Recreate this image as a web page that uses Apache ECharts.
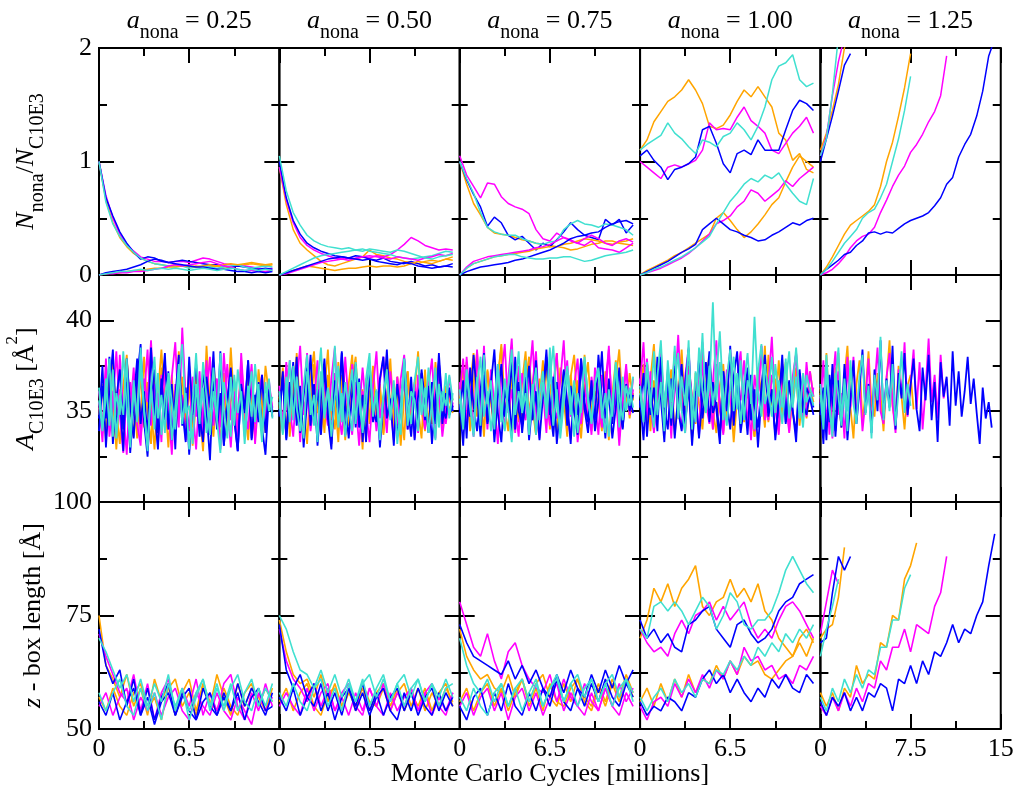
<!DOCTYPE html>
<html>
<head>
<meta charset="utf-8">
<script src="https://cdn.jsdelivr.net/npm/echarts@6/dist/echarts.min.js"></script>
<style>
html, body { margin: 0; padding: 0; background: #fff; }
#chart { width: 1016px; height: 786px; }
</style>
</head>
<body>
<div id="chart"></div>
<script>
var FONT = '"Liberation Serif", "Times New Roman", serif';

// panel columns
var columnTitles = ['0.25', '0.50', '0.75', '1.00', '1.25'];
var cycleMax = [13, 13, 13, 13, 15];
var cycleTick = [6.5, 6.5, 6.5, 6.5, 7.5];
var runColors = ['#ffa500', '#ff00ff', '#0000ff', '#40e0d0'];

// sampling interval of the runs (millions of MC cycles)
var ratioStep = 0.5;
var areaStep = 0.25;
var boxStep = 0.5;

// N_nona/N_C10E3 : runs started at 1 (orange, magenta, blue, turquoise), then runs started at 0
var ratio025 = [
    [1.0, 0.66, 0.46, 0.33, 0.25, 0.19, 0.15, 0.12, 0.10, 0.09, 0.08, 0.09, 0.08, 0.07, 0.08, 0.07, 0.07, 0.08, 0.06, 0.07, 0.08, 0.09, 0.10, 0.09, 0.08, 0.09],
    [1.0, 0.70, 0.50, 0.36, 0.27, 0.21, 0.16, 0.14, 0.12, 0.12, 0.11, 0.12, 0.12, 0.11, 0.13, 0.15, 0.14, 0.12, 0.10, 0.09, 0.08, 0.08, 0.07, 0.06, 0.05, 0.06],
    [1.0, 0.68, 0.52, 0.38, 0.28, 0.20, 0.14, 0.16, 0.15, 0.12, 0.11, 0.12, 0.13, 0.12, 0.11, 0.10, 0.09, 0.09, 0.08, 0.07, 0.08, 0.07, 0.06, 0.05, 0.06, 0.05],
    [1.0, 0.64, 0.45, 0.34, 0.26, 0.20, 0.15, 0.12, 0.10, 0.09, 0.08, 0.07, 0.08, 0.06, 0.07, 0.08, 0.07, 0.06, 0.07, 0.08, 0.09, 0.07, 0.06, 0.07, 0.08, 0.07],
    [0, 0.01, 0.02, 0.02, 0.03, 0.04, 0.04, 0.05, 0.06, 0.06, 0.07, 0.07, 0.08, 0.08, 0.07, 0.08, 0.09, 0.08, 0.09, 0.10, 0.09, 0.10, 0.11, 0.10, 0.09, 0.10],
    [0, 0.01, 0.01, 0.02, 0.02, 0.03, 0.03, 0.04, 0.05, 0.06, 0.08, 0.09, 0.08, 0.09, 0.10, 0.11, 0.12, 0.10, 0.08, 0.07, 0.05, 0.04, 0.04, 0.03, 0.03, 0.04],
    [0, 0.02, 0.03, 0.04, 0.05, 0.07, 0.09, 0.12, 0.14, 0.13, 0.11, 0.10, 0.09, 0.08, 0.07, 0.07, 0.06, 0.05, 0.05, 0.04, 0.03, 0.03, 0.02, 0.03, 0.02, 0.03],
    [0, 0.01, 0.02, 0.03, 0.03, 0.04, 0.05, 0.04, 0.05, 0.06, 0.05, 0.06, 0.05, 0.04, 0.05, 0.06, 0.05, 0.04, 0.05, 0.06, 0.05, 0.04, 0.05, 0.04, 0.05, 0.04]
];
var ratio050 = [
    [0.95, 0.62, 0.40, 0.28, 0.22, 0.17, 0.12, 0.09, 0.08, 0.10, 0.12, 0.14, 0.16, 0.22, 0.18, 0.17, 0.15, 0.14, 0.12, 0.11, 0.10, 0.12, 0.13, 0.12, 0.14, 0.16],
    [0.95, 0.66, 0.46, 0.33, 0.26, 0.22, 0.19, 0.17, 0.15, 0.14, 0.15, 0.14, 0.16, 0.15, 0.17, 0.16, 0.18, 0.22, 0.27, 0.33, 0.30, 0.26, 0.24, 0.22, 0.23, 0.22],
    [1.0, 0.68, 0.48, 0.36, 0.28, 0.24, 0.21, 0.19, 0.17, 0.16, 0.15, 0.17, 0.16, 0.14, 0.13, 0.15, 0.12, 0.11, 0.10, 0.12, 0.10, 0.08, 0.09, 0.07, 0.08, 0.10],
    [1.05, 0.74, 0.55, 0.44, 0.35, 0.30, 0.27, 0.25, 0.24, 0.23, 0.24, 0.22, 0.23, 0.21, 0.20, 0.19, 0.18, 0.16, 0.15, 0.14, 0.15, 0.16, 0.17, 0.19, 0.21, 0.20],
    [0, 0.02, 0.04, 0.06, 0.08, 0.07, 0.06, 0.05, 0.04, 0.05, 0.06, 0.06, 0.07, 0.08, 0.07, 0.08, 0.08, 0.07, 0.08, 0.10, 0.12, 0.11, 0.10, 0.12, 0.14, 0.13],
    [0, 0.01, 0.03, 0.05, 0.07, 0.09, 0.11, 0.12, 0.13, 0.14, 0.13, 0.15, 0.16, 0.17, 0.16, 0.15, 0.14, 0.16, 0.15, 0.14, 0.13, 0.15, 0.16, 0.18, 0.17, 0.19],
    [0, 0.02, 0.04, 0.06, 0.08, 0.10, 0.12, 0.14, 0.15, 0.16, 0.15, 0.14, 0.13, 0.14, 0.12, 0.11, 0.10, 0.09, 0.11, 0.10, 0.08, 0.07, 0.06, 0.07, 0.08, 0.07],
    [0, 0.03, 0.06, 0.09, 0.12, 0.15, 0.17, 0.18, 0.19, 0.20, 0.21, 0.22, 0.21, 0.23, 0.22, 0.21, 0.20, 0.22, 0.21, 0.19, 0.17, 0.15, 0.14, 0.16, 0.17, 0.18]
];
var ratio075 = [
    [1.0, 0.80, 0.63, 0.53, 0.42, 0.37, 0.36, 0.35, 0.33, 0.31, 0.30, 0.28, 0.27, 0.26, 0.25, 0.24, 0.22, 0.23, 0.25, 0.27, 0.28, 0.30, 0.30, 0.28, 0.27, 0.26],
    [1.05, 0.88, 0.78, 0.68, 0.81, 0.80, 0.69, 0.63, 0.60, 0.58, 0.54, 0.40, 0.32, 0.30, 0.37, 0.33, 0.31, 0.28, 0.26, 0.30, 0.24, 0.23, 0.22, 0.20, 0.24, 0.28],
    [1.0, 0.84, 0.71, 0.60, 0.43, 0.51, 0.46, 0.35, 0.31, 0.34, 0.28, 0.22, 0.28, 0.25, 0.31, 0.38, 0.46, 0.40, 0.35, 0.33, 0.31, 0.49, 0.44, 0.49, 0.37, 0.44],
    [1.0, 0.85, 0.72, 0.55, 0.42, 0.38, 0.36, 0.35, 0.35, 0.32, 0.30, 0.28, 0.27, 0.29, 0.30, 0.40, 0.45, 0.48, 0.45, 0.44, 0.42, 0.45, 0.44, 0.42, 0.40, 0.35],
    [0, 0.06, 0.10, 0.12, 0.14, 0.16, 0.17, 0.18, 0.19, 0.20, 0.21, 0.23, 0.24, 0.25, 0.25, 0.27, 0.28, 0.30, 0.32, 0.31, 0.30, 0.28, 0.27, 0.29, 0.30, 0.32],
    [0, 0.07, 0.12, 0.14, 0.16, 0.17, 0.18, 0.19, 0.20, 0.21, 0.22, 0.24, 0.25, 0.27, 0.30, 0.33, 0.30, 0.28, 0.32, 0.35, 0.32, 0.28, 0.26, 0.30, 0.32, 0.29],
    [0, 0.03, 0.05, 0.07, 0.08, 0.09, 0.10, 0.11, 0.13, 0.14, 0.16, 0.18, 0.20, 0.22, 0.25, 0.28, 0.32, 0.34, 0.35, 0.37, 0.38, 0.42, 0.45, 0.47, 0.48, 0.45],
    [0, 0.06, 0.10, 0.12, 0.14, 0.16, 0.17, 0.18, 0.18, 0.16, 0.15, 0.14, 0.14, 0.15, 0.15, 0.16, 0.16, 0.14, 0.12, 0.13, 0.15, 0.17, 0.18, 0.19, 0.20, 0.22]
];
var ratio100 = [
    [1.10, 1.19, 1.35, 1.44, 1.53, 1.57, 1.63, 1.72, 1.63, 1.51, 1.31, 1.29, 1.32, 1.41, 1.53, 1.63, 1.57, 1.66, 1.57, 1.48, 1.25, 1.19, 1.01, 1.07, 0.93, 0.90],
    [1.0, 0.95, 0.90, 0.85, 0.95, 0.97, 0.95, 0.98, 1.01, 1.10, 1.34, 1.28, 1.29, 1.28, 1.39, 1.48, 1.36, 1.31, 1.25, 1.10, 1.07, 1.16, 1.25, 1.31, 1.39, 1.25],
    [1.05, 1.10, 1.01, 0.95, 0.84, 0.93, 0.95, 0.98, 1.04, 1.28, 1.31, 1.16, 0.98, 0.90, 1.07, 1.10, 1.06, 1.19, 1.10, 1.10, 1.10, 1.28, 1.45, 1.54, 1.51, 1.45],
    [1.10, 1.15, 1.19, 1.23, 1.34, 1.25, 1.20, 1.13, 1.07, 1.19, 1.17, 1.13, 1.22, 1.25, 1.34, 1.28, 1.19, 1.31, 1.48, 1.72, 1.84, 1.87, 1.94, 1.72, 1.66, 1.69],
    [0, 0.04, 0.07, 0.10, 0.13, 0.17, 0.20, 0.24, 0.28, 0.32, 0.36, 0.50, 0.55, 0.48, 0.40, 0.33, 0.38, 0.45, 0.53, 0.62, 0.68, 0.82, 0.95, 1.05, 1.00, 0.95],
    [0, 0.02, 0.04, 0.06, 0.09, 0.12, 0.15, 0.19, 0.24, 0.30, 0.36, 0.45, 0.48, 0.52, 0.60, 0.65, 0.75, 0.72, 0.65, 0.70, 0.75, 0.83, 0.78, 0.85, 0.90, 0.95],
    [0, 0.03, 0.06, 0.09, 0.12, 0.16, 0.20, 0.23, 0.27, 0.40, 0.45, 0.50, 0.45, 0.40, 0.38, 0.35, 0.33, 0.30, 0.31, 0.35, 0.38, 0.42, 0.46, 0.44, 0.48, 0.50],
    [0, 0.02, 0.05, 0.07, 0.10, 0.13, 0.16, 0.20, 0.24, 0.29, 0.34, 0.45, 0.55, 0.65, 0.72, 0.80, 0.85, 0.82, 0.88, 0.85, 0.90, 0.80, 0.72, 0.65, 0.62, 0.85]
];
var ratio125 = [
    [1.10, 1.25, 1.45, 1.68, 2.0, 2.2],
    [1.05, 1.22, 1.58, 1.88, 2.1],
    [1.0, 1.2, 1.4, 1.62, 1.85, 1.95],
    [1.05, 1.2, 1.6, 2.1],
    [0, 0.07, 0.16, 0.26, 0.36, 0.44, 0.48, 0.52, 0.56, 0.62, 0.78, 1.0, 1.17, 1.4, 1.65, 1.95],
    [0, 0.02, 0.05, 0.10, 0.16, 0.24, 0.30, 0.34, 0.36, 0.42, 0.55, 0.66, 0.78, 0.88, 0.96, 1.08, 1.15, 1.24, 1.35, 1.44, 1.58, 1.93],
    [0, 0.05, 0.09, 0.13, 0.18, 0.20, 0.26, 0.30, 0.37, 0.38, 0.36, 0.38, 0.37, 0.41, 0.45, 0.48, 0.50, 0.52, 0.55, 0.61, 0.68, 0.80, 0.86, 1.04, 1.15, 1.24, 1.40, 1.62, 1.93, 2.08],
    [0, 0.05, 0.12, 0.20, 0.28, 0.34, 0.40, 0.50, 0.55, 0.58, 0.68, 0.80, 1.00, 1.20, 1.45, 1.75]
];

// A_C10E3 [A^2] : first set of runs (orange, magenta, blue, turquoise), then second set
var area025 = [
    [35.2, 33.8, 36.9, 34.5, 37.6, 35.0, 33.2, 36.4, 38.1, 34.7, 35.9, 33.5, 37.2, 34.1, 36.6, 35.3, 32.9, 36.0, 38.4, 35.1, 34.2, 37.0, 33.7, 35.8, 36.9, 34.4, 37.5, 33.1, 35.6, 36.8, 34.0, 38.6, 35.2, 33.6, 36.3, 34.8, 37.1, 33.9, 35.5, 36.7, 34.3, 37.8, 35.0, 33.4, 36.1, 34.6, 37.3, 35.4, 33.8, 36.5, 35.0],
    [36.1, 34.0, 37.9, 33.6, 35.4, 38.3, 34.8, 32.7, 36.2, 35.0, 37.4, 34.3, 33.1, 36.8, 35.5, 38.9, 34.6, 36.0, 33.3, 37.7, 35.2, 32.6, 36.5, 34.1, 39.6, 35.8, 33.9, 36.9, 34.7, 37.2, 33.4, 35.9, 38.0, 34.2, 36.4, 32.9, 35.3, 37.6, 34.5, 36.1, 33.6, 38.2, 35.1, 34.0, 36.7, 33.2, 35.8, 37.0, 34.4, 36.3, 35.2],
    [34.6, 37.5, 33.0, 36.2, 38.4, 34.1, 35.7, 32.8, 37.9, 35.3, 33.5, 36.8, 38.7, 34.4, 32.5, 36.0, 37.3, 33.8, 35.9, 38.2, 34.0, 36.5, 32.9, 37.6, 35.1, 33.3, 38.0, 34.8, 36.4, 33.6, 37.4, 35.0, 32.3, 36.9, 34.2, 38.3, 33.1, 35.6, 37.1, 34.5, 32.8, 36.3, 34.9, 37.8, 33.4, 35.5, 36.6, 34.1, 32.6, 35.9, 34.7],
    [35.6, 33.9, 36.8, 34.2, 37.3, 33.5, 35.9, 34.8, 37.9, 33.0, 36.2, 34.6, 38.5, 35.1, 32.8, 36.4, 34.0, 37.1, 33.7, 35.8, 36.9, 33.4, 35.2, 37.6, 34.3, 36.0, 32.9, 35.5, 38.2, 34.7, 36.3, 33.8, 35.0, 37.4, 34.5, 32.7, 36.6, 35.3, 33.6, 37.0, 34.9, 36.1, 33.2, 35.7, 37.2, 34.4, 36.5, 33.9, 35.4, 36.8, 34.6],
    [34.8, 36.5, 33.4, 37.1, 35.6, 32.9, 36.2, 34.0, 37.8, 35.3, 33.6, 36.7, 34.5, 38.0, 35.1, 33.2, 36.9, 34.3, 37.4, 35.8, 33.0, 36.1, 34.7, 38.3, 35.5, 33.7, 36.4, 34.1, 37.2, 35.0, 32.8, 36.6, 34.9, 37.7, 35.4, 33.3, 36.0, 34.6, 38.5, 35.2, 33.9, 36.8, 34.2, 37.0, 35.7, 33.5, 36.3, 34.4, 37.5, 35.9, 34.8],
    [35.5, 33.3, 37.2, 34.6, 36.1, 33.8, 38.1, 35.0, 32.6, 36.6, 34.9, 37.5, 33.5, 35.8, 38.4, 34.2, 36.5, 33.1, 37.0, 35.3, 34.0, 36.9, 38.8, 34.7, 35.9, 33.4, 37.3, 35.2, 32.9, 36.3, 34.5, 37.8, 33.7, 35.6, 36.8, 34.1, 38.2, 35.4, 33.0, 36.0, 34.8, 37.1, 33.6, 35.7, 37.6, 34.3, 36.2, 33.9, 35.1, 36.7, 35.0],
    [33.9, 36.4, 34.6, 38.0, 33.2, 35.7, 37.3, 34.0, 36.6, 32.7, 35.4, 37.9, 34.3, 36.1, 33.6, 38.5, 35.0, 32.9, 36.8, 34.5, 37.2, 33.4, 35.8, 38.1, 34.2, 36.3, 32.6, 35.5, 37.6, 34.8, 33.3, 36.9, 35.2, 38.3, 34.0, 36.0, 33.1, 35.6, 37.4, 34.7, 32.8, 36.5, 35.1, 37.8, 33.5, 35.9, 34.4, 37.0, 33.8, 36.2, 34.9],
    [36.3, 34.1, 35.7, 37.9, 33.6, 36.0, 34.8, 38.3, 35.2, 33.4, 36.7, 34.4, 37.5, 35.0, 33.1, 36.2, 38.0, 34.6, 35.9, 33.8, 37.1, 35.5, 34.0, 36.8, 38.7, 34.9, 35.3, 33.2, 36.5, 34.3, 37.7, 35.8, 33.7, 36.1, 34.5, 38.2, 35.1, 33.5, 36.9, 34.2, 37.3, 35.6, 33.9, 36.4, 34.7, 37.6, 35.4, 33.3, 36.6, 35.0, 35.8]
];
var area050 = [
    [35.8, 34.1, 37.4, 33.6, 36.2, 38.0, 34.7, 35.5, 33.2, 36.9, 38.3, 34.9, 36.1, 33.8, 37.0, 35.2, 34.0, 37.7, 35.9, 33.4, 36.5, 38.1, 34.6, 35.7, 32.9, 36.8, 34.3, 37.5, 35.0, 36.3, 33.7, 35.6, 37.9, 34.4, 36.0, 33.1, 35.8, 37.2, 34.8, 36.6, 35.1, 33.5, 37.3, 34.2, 36.4, 35.3, 37.6, 34.5, 36.1, 35.0, 35.7],
    [36.4, 33.9, 35.2, 37.8, 34.5, 36.7, 33.3, 35.9, 38.2, 34.8, 36.0, 33.6, 37.1, 35.4, 34.2, 36.8, 38.5, 35.0, 33.7, 36.3, 34.9, 37.6, 35.5, 33.1, 36.1, 34.4, 37.3, 35.8, 33.9, 36.6, 38.0, 34.6, 35.3, 33.4, 36.9, 35.1, 37.4, 34.0, 35.7, 36.5, 33.8, 37.0, 34.7, 36.2, 35.0, 33.5, 37.7, 35.6, 34.3, 36.0, 35.4],
    [34.9, 37.2, 33.5, 36.6, 35.1, 38.0, 33.8, 35.9, 37.4, 34.2, 36.5, 33.1, 35.7, 37.9, 34.6, 32.9, 36.3, 35.0, 38.2, 33.7, 35.4, 37.0, 34.1, 36.8, 33.3, 35.8, 37.6, 34.4, 36.1, 33.0, 35.5, 38.4, 34.7, 36.2, 33.6, 35.2, 37.3, 34.0, 36.9, 33.4, 35.8, 37.1, 34.5, 36.4, 33.2, 35.6, 37.8, 34.3, 36.0, 34.8, 35.3],
    [35.5, 33.7, 36.9, 34.4, 37.5, 35.2, 33.9, 36.4, 38.1, 34.8, 35.9, 33.3, 37.2, 34.6, 36.3, 35.0, 38.6, 34.1, 36.0, 33.6, 35.7, 37.3, 34.3, 36.6, 33.8, 35.4, 37.7, 34.9, 36.2, 33.5, 35.8, 37.0, 34.5, 36.7, 33.2, 35.3, 37.9, 34.2, 36.1, 35.6, 33.9, 36.8, 34.7, 37.4, 35.1, 33.4, 36.5, 35.0, 37.1, 34.6, 36.0],
    [35.1, 37.4, 33.9, 36.3, 34.6, 38.2, 35.0, 33.5, 36.8, 34.9, 37.6, 35.3, 33.7, 36.1, 38.4, 34.5, 35.8, 33.3, 37.0, 35.6, 34.2, 36.7, 38.0, 34.8, 36.2, 33.6, 35.9, 37.3, 34.4, 36.5, 33.8, 38.1, 35.2, 34.0, 36.9, 35.4, 33.4, 37.2, 34.7, 36.0, 38.3, 35.0, 33.9, 36.6, 34.3, 37.7, 35.5, 34.1, 36.4, 35.7, 34.9],
    [36.0, 34.3, 37.7, 35.2, 33.6, 36.5, 38.6, 34.8, 36.2, 33.9, 35.5, 37.8, 34.1, 36.7, 35.0, 33.4, 37.1, 35.7, 34.4, 38.0, 35.3, 33.7, 36.6, 34.9, 37.4, 35.1, 33.3, 36.3, 38.3, 34.6, 35.8, 33.8, 37.2, 35.4, 34.2, 36.8, 38.1, 34.7, 35.9, 33.5, 37.0, 35.6, 34.0, 36.4, 37.9, 34.5, 36.1, 33.6, 35.3, 36.9, 35.2],
    [34.7, 36.9, 33.4, 35.8, 37.7, 34.2, 36.4, 33.0, 35.6, 38.1, 34.5, 36.2, 33.7, 37.4, 35.1, 33.2, 36.7, 34.8, 38.3, 35.4, 33.5, 36.0, 37.6, 34.1, 35.9, 33.3, 37.1, 35.0, 34.4, 36.8, 38.0, 34.6, 35.7, 33.1, 36.5, 34.9, 37.9, 35.3, 33.6, 36.1, 34.0, 37.3, 35.5, 33.8, 36.6, 34.3, 38.2, 35.2, 34.6, 36.3, 35.0],
    [36.1, 33.8, 35.6, 37.8, 34.5, 36.9, 35.0, 33.5, 37.2, 35.7, 34.2, 36.4, 38.5, 34.9, 36.2, 33.6, 35.8, 37.5, 34.4, 36.6, 35.2, 33.9, 37.7, 35.5, 34.0, 36.8, 38.2, 34.7, 36.0, 33.4, 35.9, 37.3, 34.6, 36.5, 35.1, 33.7, 37.9, 35.4, 34.3, 36.7, 38.0, 34.8, 36.3, 33.8, 35.5, 37.4, 34.1, 36.1, 35.3, 37.0, 35.6]
];
var area075 = [
    [36.0, 34.4, 37.7, 33.9, 36.5, 38.3, 35.0, 34.1, 37.2, 35.6, 33.8, 36.9, 38.5, 34.7, 36.2, 33.5, 35.8, 37.4, 34.3, 36.6, 38.0, 35.2, 33.7, 36.8, 35.4, 37.6, 34.0, 36.1, 38.2, 34.9, 35.7, 33.6, 37.0, 35.1, 36.7, 34.2, 38.1, 35.5, 33.9, 36.4, 37.3, 34.6, 36.0, 33.4, 35.9, 37.8, 34.8, 36.3, 35.2, 37.1, 35.6],
    [35.9, 37.9, 34.3, 36.4, 33.6, 38.4, 35.1, 36.8, 34.0, 37.3, 35.4, 33.2, 36.9, 38.7, 34.9, 36.2, 33.8, 37.5, 35.3, 34.5, 36.7, 38.9, 35.0, 33.5, 37.1, 35.8, 34.2, 36.5, 38.2, 33.9, 35.6, 37.8, 34.7, 36.3, 33.3, 35.2, 37.4, 34.1, 36.9, 35.5, 33.7, 37.0, 35.4, 38.6, 34.4, 36.1, 33.1, 35.7, 37.6, 34.8, 36.2],
    [35.4, 33.1, 36.8, 34.7, 38.1, 35.9, 33.6, 37.0, 34.3, 36.5, 38.4, 34.9, 33.3, 36.2, 35.1, 37.7, 34.0, 36.6, 33.8, 35.7, 37.5, 34.5, 36.1, 33.4, 35.8, 38.0, 34.8, 36.9, 33.2, 35.3, 37.2, 34.2, 36.4, 35.0, 33.7, 37.9, 35.5, 34.4, 36.7, 33.9, 35.6, 38.3, 34.6, 36.0, 33.5, 35.2, 37.4, 34.1, 36.3, 35.8, 34.9],
    [35.7, 34.0, 37.1, 35.2, 33.6, 36.4, 38.0, 34.7, 36.1, 33.9, 35.6, 37.5, 34.4, 36.8, 35.0, 33.3, 36.3, 38.3, 34.9, 36.0, 33.7, 35.9, 37.4, 34.5, 36.6, 35.1, 38.5, 34.2, 36.2, 33.5, 35.4, 37.0, 34.8, 36.7, 33.8, 35.3, 37.8, 35.8, 34.3, 36.5, 37.2, 34.6, 36.0, 33.6, 35.5, 37.6, 34.1, 36.9, 35.0, 36.3, 35.2],
    [35.3, 37.6, 34.0, 36.4, 38.2, 34.7, 36.0, 33.6, 37.3, 35.5, 34.3, 36.8, 38.7, 35.1, 33.9, 37.0, 35.8, 34.4, 36.6, 38.3, 34.9, 36.2, 33.7, 35.6, 37.8, 34.6, 36.5, 35.0, 33.8, 37.4, 35.9, 34.2, 36.9, 38.1, 35.2, 33.5, 36.3, 37.7, 34.8, 36.1, 35.4, 33.9, 37.2, 35.7, 34.5, 36.7, 38.4, 35.0, 36.4, 34.6, 36.0],
    [36.6, 34.2, 38.0, 35.4, 33.7, 36.9, 35.1, 38.6, 34.5, 36.3, 33.9, 37.5, 35.7, 34.0, 36.8, 39.0, 35.2, 33.6, 37.1, 35.9, 34.4, 36.5, 38.3, 34.8, 36.1, 33.8, 37.7, 35.3, 34.6, 36.7, 38.9, 35.0, 33.5, 36.4, 37.9, 34.3, 36.0, 35.6, 33.7, 37.4, 35.8, 34.1, 36.6, 38.4, 34.9, 36.2, 33.6, 35.5, 37.3, 35.1, 36.8],
    [34.9, 36.7, 33.5, 37.4, 35.3, 33.9, 36.1, 38.2, 34.4, 36.5, 33.3, 35.8, 37.6, 34.7, 36.3, 33.7, 38.0, 35.0, 34.2, 36.9, 33.4, 35.6, 37.8, 34.6, 36.0, 38.4, 35.2, 33.6, 36.6, 34.0, 37.3, 35.5, 33.2, 36.4, 34.8, 37.9, 35.1, 33.8, 36.2, 34.5, 38.1, 35.7, 33.5, 36.8, 34.3, 37.1, 35.4, 34.0, 36.5, 35.0, 35.9],
    [36.2, 34.5, 37.3, 35.6, 33.8, 36.9, 34.2, 38.1, 35.4, 36.7, 34.0, 37.6, 35.1, 33.9, 36.4, 38.4, 34.8, 36.1, 35.0, 37.8, 34.3, 36.5, 33.7, 35.9, 37.2, 34.6, 36.8, 38.6, 35.3, 34.1, 36.3, 37.5, 35.7, 33.6, 36.0, 34.9, 38.0, 35.5, 34.4, 36.6, 37.4, 35.2, 33.8, 36.2, 34.7, 37.7, 35.8, 34.5, 36.4, 35.3, 36.9]
];
var area100 = [
    [36.2, 34.5, 37.8, 33.9, 36.7, 35.1, 38.2, 34.3, 36.0, 37.3, 33.7, 35.8, 38.4, 34.9, 36.5, 33.5, 37.1, 35.4, 34.0, 36.9, 38.0, 35.0, 33.8, 36.4, 37.6, 34.6, 36.1, 33.3, 35.7, 37.9, 34.4, 36.6, 35.2, 33.6, 37.4, 35.9, 34.1, 38.1, 35.3, 36.8, 33.9, 36.3, 37.7, 34.7, 35.5, 37.0, 34.2, 36.4, 35.0, 37.2, 35.8],
    [36.5, 38.8, 34.6, 37.2, 33.8, 35.9, 38.1, 34.2, 36.7, 33.5, 37.6, 35.3, 34.0, 36.9, 38.5, 34.8, 36.1, 33.6, 37.8, 35.4, 34.3, 36.6, 38.9, 35.0, 33.9, 37.3, 35.7, 34.4, 36.8, 38.3, 34.9, 36.2, 33.4, 37.0, 35.6, 38.6, 34.5, 36.4, 39.1, 35.1, 33.7, 37.4, 35.8, 34.1, 36.9, 38.2, 35.2, 34.6, 37.7, 35.5, 36.3],
    [35.6, 33.4, 37.0, 34.8, 36.3, 33.9, 38.0, 35.2, 34.0, 36.8, 33.5, 35.9, 37.6, 34.3, 36.4, 33.1, 35.7, 37.9, 34.6, 36.1, 38.3, 34.9, 35.5, 33.6, 37.2, 35.0, 38.6, 34.2, 36.7, 33.8, 35.3, 37.4, 34.5, 36.2, 33.0, 35.8, 37.7, 34.7, 36.0, 33.7, 35.4, 38.1, 34.4, 36.6, 35.1, 33.3, 37.1, 34.9, 36.3, 35.7, 34.8],
    [36.0, 34.4, 37.5, 35.2, 38.3, 34.8, 36.6, 33.9, 37.8, 35.5, 38.6, 34.6, 36.9, 35.3, 38.9, 34.0, 37.2, 35.8, 39.3, 35.1, 36.4, 41.0, 35.6, 37.7, 34.5, 36.8, 38.4, 35.0, 37.1, 34.3, 36.5, 38.2, 35.4, 40.2, 36.1, 34.7, 37.6, 35.9, 38.0, 34.9, 36.7, 35.2, 37.9, 34.6, 36.3, 38.5, 35.7, 34.1, 37.0, 36.2, 35.8],
    [35.9, 37.6, 34.2, 36.8, 38.7, 35.0, 36.4, 33.7, 37.2, 35.5, 38.3, 34.6, 36.1, 33.9, 37.5, 35.8, 34.3, 36.6, 38.5, 35.2, 36.9, 34.0, 37.3, 35.6, 33.8, 36.3, 38.2, 34.9, 36.0, 37.7, 34.5, 36.7, 35.3, 33.6, 37.0, 35.9, 38.6, 34.4, 36.2, 35.1, 37.8, 34.7, 36.5, 33.9, 35.7, 37.4, 35.0, 36.8, 34.6, 36.3, 35.5],
    [36.8, 34.6, 37.9, 35.2, 33.9, 36.5, 38.4, 35.0, 37.1, 34.3, 36.0, 39.2, 35.5, 33.8, 37.3, 35.8, 34.4, 36.7, 38.8, 35.1, 36.3, 34.0, 37.6, 35.4, 33.7, 36.9, 38.1, 34.8, 36.2, 35.6, 37.8, 34.2, 36.6, 33.9, 35.9, 38.6, 35.3, 34.5, 37.0, 36.1, 34.1, 37.5, 35.7, 33.8, 36.4, 38.2, 35.0, 36.8, 34.7, 37.2, 35.8],
    [35.2, 37.1, 33.6, 36.3, 34.5, 38.0, 35.7, 33.3, 36.8, 34.2, 37.5, 35.0, 33.9, 36.5, 38.4, 34.7, 36.1, 33.5, 35.8, 37.7, 34.4, 36.6, 35.1, 33.2, 37.2, 35.5, 34.0, 36.9, 38.3, 34.6, 35.9, 33.7, 37.0, 35.3, 34.1, 36.4, 38.1, 34.9, 36.2, 33.4, 35.6, 37.6, 34.3, 36.7, 35.0, 33.8, 37.3, 35.4, 34.8, 36.0, 35.2],
    [36.4, 34.8, 37.7, 35.5, 34.1, 36.9, 38.9, 35.2, 37.3, 34.6, 36.6, 38.2, 35.0, 33.8, 37.0, 35.7, 34.4, 38.5, 36.1, 34.9, 37.5, 35.3, 36.8, 39.4, 35.6, 34.2, 36.3, 38.0, 35.1, 37.8, 34.5, 36.7, 35.9, 34.0, 37.2, 38.7, 35.4, 36.2, 34.7, 37.6, 35.8, 34.3, 36.5, 38.3, 35.2, 36.9, 34.6, 37.1, 35.5, 36.0, 35.3]
];
var area125 = [
    [36.3, 34.6, 38.2, 35.0, 33.8, 37.4, 35.7, 34.1, 36.9, 38.6, 35.2, 33.5, 36.5, 37.8, 34.4, 36.0, 38.3, 35.4, 34.7, 37.1, 35.9, 33.9, 36.7, 38.9, 35.3, 34.2, 37.5, 35.8, 34.0, 36.4, 37.0, 35.1],
    [35.8, 34.2, 37.1, 33.7, 36.4, 38.3, 34.8, 36.0, 33.5, 37.6, 35.2, 38.0, 34.5, 36.7, 33.9, 35.6, 37.9, 34.1, 36.3, 38.5, 35.0, 34.3, 36.9, 38.2, 35.4, 33.8, 37.3, 35.9, 38.8, 34.7, 36.5, 38.4, 35.1, 37.7, 34.0, 36.2, 39.0, 35.5, 37.0, 34.6, 38.1, 35.7, 36.8],
    [35.5, 33.2, 36.9, 34.4, 37.6, 33.6, 35.9, 34.1, 36.7, 33.4, 35.6, 37.8, 34.3, 36.2, 38.4, 34.9, 36.5, 33.8, 37.3, 35.0, 38.9, 34.6, 36.8, 35.2, 38.6, 34.0, 37.1, 35.7, 38.2, 34.8, 36.4, 37.9, 35.1, 33.9, 37.4, 35.6, 38.1, 34.5, 36.6, 33.3, 37.7, 35.8, 36.9, 34.2, 38.3, 35.3, 37.2, 34.7, 36.1, 38.0, 35.4, 36.8, 34.9, 33.2, 36.3, 34.6, 35.5, 34.1],
    [35.9, 34.0, 37.3, 35.1, 33.6, 36.6, 38.5, 34.7, 36.2, 33.9, 37.8, 35.4, 34.3, 36.9, 38.1, 34.8, 36.4, 33.5, 37.0, 35.6, 39.1, 34.5, 36.7, 35.0, 37.6, 34.2, 36.1, 38.3, 34.9, 36.5, 35.3],
    [36.0, 34.3, 37.5, 35.1, 33.8, 36.9, 38.2, 34.6, 36.4, 35.0, 37.3],
    [35.4, 37.8, 34.1, 36.6, 33.5, 35.9, 37.2, 34.8, 36.1, 38.0, 35.3],
    [34.8, 36.3, 33.4, 37.0, 35.6, 33.9, 36.7, 34.4, 37.6, 35.2, 36.0],
    [36.5, 34.7, 38.1, 35.3, 33.9, 37.1, 35.8, 34.2, 36.8, 35.0, 37.4]
];

// z - box length [A] : runs started long (orange, magenta, blue, turquoise), then runs started short
var box025 = [
    [75, 64, 61, 57, 62, 55, 59, 53, 61, 56, 60, 53, 58, 61, 54, 60, 55, 62, 57, 53, 60, 55, 59, 57, 54, 59],
    [71, 66, 62, 58, 56, 62, 54, 60, 52, 58, 61, 54, 59, 55, 61, 53, 58, 54, 60, 62, 55, 52, 58, 54, 60, 55],
    [72, 64, 60, 63, 55, 61, 53, 59, 52, 57, 60, 53, 58, 54, 52, 59, 55, 53, 58, 54, 60, 55, 59, 56, 53, 58],
    [70, 67, 63, 59, 62, 56, 61, 55, 60, 56, 62, 54, 59, 52, 57, 61, 55, 60, 54, 59, 62, 56, 54, 59, 55, 60],
    [57, 54, 59, 55, 53, 58, 60, 54, 57, 52, 59, 61, 55, 58, 53, 60, 56, 54, 59, 55, 53, 58, 60, 55, 59, 56],
    [55, 58, 53, 57, 59, 52, 57, 54, 58, 53, 57, 59, 54, 52, 58, 55, 53, 58, 54, 52, 57, 54, 51, 58, 54, 57],
    [56, 53, 58, 52, 56, 59, 53, 57, 51, 56, 58, 53, 57, 59, 52, 56, 58, 53, 57, 54, 58, 52, 57, 59, 54, 55],
    [58, 54, 58, 61, 55, 53, 59, 54, 58, 52, 60, 55, 59, 54, 58, 61, 54, 59, 55, 60, 54, 58, 61, 55, 59, 56]
];
var box050 = [
    [74, 67, 62, 60, 61, 57, 62, 56, 60, 55, 59, 54, 60, 56, 55, 59, 54, 58, 60, 55, 59, 54, 58, 55, 59, 56],
    [72, 65, 61, 59, 56, 60, 55, 59, 54, 58, 60, 55, 53, 59, 55, 60, 54, 58, 55, 59, 54, 58, 60, 55, 53, 58],
    [73, 63, 59, 62, 57, 55, 60, 54, 58, 53, 59, 55, 60, 54, 58, 53, 57, 59, 54, 58, 53, 57, 59, 54, 58, 55],
    [75, 72, 67, 63, 62, 59, 63, 58, 62, 57, 61, 56, 60, 62, 57, 61, 56, 60, 62, 57, 61, 56, 60, 57, 61, 57],
    [56, 59, 54, 58, 60, 55, 53, 58, 59, 54, 58, 55, 59, 54, 58, 60, 55, 59, 54, 58, 55, 59, 54, 58, 60, 55],
    [55, 58, 55, 53, 59, 54, 58, 60, 54, 57, 53, 58, 54, 59, 55, 53, 58, 54, 57, 59, 54, 58, 53, 57, 54, 58],
    [57, 54, 59, 53, 57, 60, 54, 58, 52, 57, 59, 54, 58, 53, 57, 59, 54, 52, 58, 54, 59, 55, 53, 58, 54, 57],
    [58, 55, 60, 56, 54, 59, 61, 55, 59, 54, 60, 56, 61, 55, 59, 62, 56, 60, 55, 59, 61, 56, 60, 55, 59, 60]
];
var box075 = [
    [72, 66, 63, 61, 62, 59, 58, 62, 57, 61, 56, 60, 62, 57, 55, 60, 56, 61, 57, 55, 60, 56, 61, 57, 62, 58],
    [78, 73, 68, 66, 71, 65, 61, 67, 69, 64, 61, 59, 58, 62, 56, 61, 57, 55, 60, 56, 54, 59, 55, 60, 56, 59],
    [73, 69, 66, 65, 64, 63, 62, 65, 61, 64, 60, 63, 59, 57, 62, 58, 63, 59, 57, 62, 58, 63, 59, 64, 60, 63],
    [70, 64, 60, 58, 61, 56, 60, 55, 59, 61, 56, 60, 55, 59, 61, 56, 60, 62, 57, 61, 56, 60, 62, 57, 61, 58],
    [56, 59, 54, 58, 60, 55, 59, 54, 58, 61, 55, 59, 54, 60, 56, 55, 59, 61, 56, 54, 59, 55, 60, 56, 61, 57],
    [55, 58, 53, 57, 59, 54, 58, 52, 57, 59, 54, 58, 53, 57, 60, 54, 58, 55, 53, 58, 54, 59, 55, 53, 58, 55],
    [55, 52, 57, 59, 53, 58, 54, 60, 55, 53, 58, 54, 59, 55, 61, 56, 54, 59, 55, 60, 56, 61, 57, 55, 60, 57],
    [57, 54, 59, 55, 53, 58, 60, 55, 59, 54, 58, 61, 55, 59, 62, 56, 60, 55, 59, 61, 56, 60, 55, 59, 61, 56]
];
var box100 = [
    [70, 74, 81, 78, 82, 77, 81, 83, 86, 77, 75, 78, 79, 83, 79, 81, 78, 82, 76, 74, 70, 68, 66, 70, 72, 69],
    [72, 69, 67, 68, 66, 71, 74, 71, 75, 76, 78, 74, 77, 74, 76, 78, 73, 70, 72, 70, 74, 77, 78, 76, 73, 70],
    [74, 70, 72, 69, 71, 68, 67, 73, 74, 76, 77, 72, 70, 68, 73, 74, 71, 69, 70, 72, 76, 78, 79, 82, 83, 84],
    [72, 70, 77, 78, 76, 78, 76, 73, 76, 79, 77, 72, 75, 80, 78, 73, 72, 74, 74, 76, 80, 85, 88, 85, 82, 80],
    [56, 59, 55, 60, 56, 61, 57, 62, 58, 61, 60, 64, 61, 65, 62, 66, 64, 65, 62, 61, 63, 65, 66, 69, 66, 70],
    [55, 52, 56, 57, 55, 60, 57, 61, 58, 62, 59, 63, 61, 65, 62, 68, 65, 66, 63, 64, 61, 62, 60, 64, 63, 66],
    [56, 53, 55, 54, 57, 56, 54, 58, 57, 61, 63, 60, 62, 58, 61, 58, 56, 59, 57, 61, 59, 62, 59, 58, 62, 60],
    [57, 54, 57, 59, 56, 61, 58, 60, 57, 61, 60, 63, 62, 65, 63, 66, 64, 68, 66, 69, 67, 71, 69, 72, 70, 73]
];
var box125 = [
    [70, 72, 73, 79, 90],
    [71, 78, 85, 82],
    [69, 70, 80, 88, 85, 88],
    [66, 72, 77, 83],
    [58, 55, 58, 54, 59, 57, 64, 60, 62, 61, 69, 68, 75, 74, 83, 86, 91],
    [55, 53, 57, 54, 58, 55, 59, 56, 60, 59, 65, 63, 68, 68, 72, 67, 73, 72, 71, 77, 80, 88],
    [56, 53, 57, 55, 58, 54, 57, 54, 58, 57, 60, 59, 54, 61, 60, 64, 60, 65, 62, 67, 66, 69, 73, 69, 72, 71, 75, 78, 86, 93],
    [57, 54, 59, 56, 61, 58, 62, 59, 63, 62, 68, 68, 74, 74, 81, 84]
];

var ratioRuns = [ratio025, ratio050, ratio075, ratio100, ratio125];
var areaRuns = [area025, area050, area075, area100, area125];
var boxRuns = [box025, box050, box075, box100, box125];

// byColor: draw all runs of one colour together, turquoise last (on top)
var rows = [
    { runs: ratioRuns, step: ratioStep, min: 0, max: 2, interval: 1, labels: [0, 1, 2], width: 1.5 },
    { runs: areaRuns, step: areaStep, min: 30, max: 42.5, interval: 5, labels: [35, 40], minor: 2.5, width: 1.8, byColor: true },
    { runs: boxRuns, step: boxStep, min: 50, max: 100, interval: 25, labels: [50, 75, 100], width: 1.6, byColor: true }
];

var colLeft = 99, colWidth = 180.35, rowTop = 48, rowHeight = 227;

function ticks(len) {
    return { show: true, inside: true, length: len, lineStyle: { color: '#000', width: 2 } };
}
function minor(show) {
    return { show: show, splitNumber: 2, length: 8, lineStyle: { color: '#000', width: 2 } };
}
var noLine = { show: false, onZero: false };

var grids = [], xAxes = [], yAxes = [], series = [];

rows.forEach(function (row, r) {
    for (var c = 0; c < 5; c++) {
        var gi = grids.length;
        grids.push({
            left: colLeft + c * colWidth, top: rowTop + r * rowHeight,
            width: colWidth, height: rowHeight,
            show: true, borderColor: '#000', borderWidth: 2,
            backgroundColor: 'transparent', containLabel: false, outerBoundsMode: 'none'
        });
        var xMax = cycleMax[c];
        var xi = xAxes.length;
        ['bottom', 'top'].forEach(function (pos) {
            xAxes.push({
                gridIndex: gi, type: 'value', position: pos,
                min: 0, max: xMax, interval: cycleTick[c],
                axisLine: noLine, axisTick: ticks(15), minorTick: minor(true),
                splitLine: { show: false },
                axisLabel: {
                    show: pos === 'bottom' && r === 2,
                    margin: 7, color: '#000', fontFamily: FONT, fontSize: 26,
                    formatter: function (v) { return (v === 13 ? '' : String(v)); }
                }
            });
        });
        var yi = yAxes.length;
        ['left', 'right'].forEach(function (pos) {
            yAxes.push({
                gridIndex: gi, type: 'value', position: pos,
                min: row.min, max: row.max, interval: row.interval,
                axisLine: noLine, axisTick: ticks(15), minorTick: minor(!row.minor),
                splitLine: { show: false },
                axisLabel: {
                    show: pos === 'left' && c === 0,
                    margin: 7, color: '#000', fontFamily: FONT, fontSize: 26,
                    formatter: (function (labels) {
                        return function (v) { return labels.indexOf(v) >= 0 ? String(v) : ''; };
                    })(row.labels)
                }
            });
            if (row.minor) {
                yAxes.push({
                    gridIndex: gi, type: 'value', position: pos,
                    min: row.min, max: row.max, interval: row.minor,
                    axisLine: noLine, axisTick: ticks(8),
                    splitLine: { show: false }, axisLabel: { show: false }
                });
            }
        });
        var runs = row.runs[c];
        var order = runs.map(function (v, k) { return k; });
        if (row.byColor) {
            order.sort(function (a, b) { return (a % 4) - (b % 4) || a - b; });
        }
        order.forEach(function (k) {
            var color = runColors[k % 4];
            series.push({
                type: 'line', xAxisIndex: xi, yAxisIndex: yi,
                data: runs[k].map(function (v, i) { return [i * row.step, v]; }),
                showSymbol: false, symbol: 'none', silent: true, animation: false,
                lineStyle: { color: color, width: row.width }, itemStyle: { color: color }
            });
        });
    }
});

var rich = {
    it: { fontFamily: FONT, fontSize: 26, fontStyle: 'italic', lineHeight: 44, verticalAlign: 'middle' },
    rm: { fontFamily: FONT, fontSize: 26, lineHeight: 44, verticalAlign: 'middle' },
    sub: { fontFamily: FONT, fontSize: 20, lineHeight: 20, verticalAlign: 'bottom' },
    sup: { fontFamily: FONT, fontSize: 17, lineHeight: 17, verticalAlign: 'top' }
};

function label(x, y, text, rot) {
    return {
        type: 'text', x: x, y: y, rotation: rot || 0, silent: true,
        style: { text: text, rich: rich, fill: '#000', align: 'center', verticalAlign: 'middle', fontFamily: FONT, fontSize: 26 }
    };
}

var graphics = columnTitles.map(function (t, c) {
    return label(colLeft + (c + 0.5) * colWidth, 21, '{it|a}{sub|nona}{rm| = ' + t + '}');
});
graphics.push(label(26, rowTop + rowHeight * 0.5, '{it|N}{sub|nona}{rm|/}{it|N}{sub|C10E3}', Math.PI / 2));
graphics.push(label(26, rowTop + rowHeight * 1.5, '{it|A}{sub|C10E3}{rm| [Å}{sup|2}{rm|]}', Math.PI / 2));
graphics.push(label(33, rowTop + rowHeight * 2.5, '{it|z}{rm| - box length [Å]}', Math.PI / 2));
graphics.push(label(colLeft + colWidth * 2.5, 774, '{rm|Monte Carlo Cycles [millions]}'));

var chart = echarts.init(document.getElementById('chart'));
chart.setOption({
    backgroundColor: '#fff',
    animation: false,
    textStyle: { fontFamily: FONT },
    grid: grids,
    xAxis: xAxes,
    yAxis: yAxes,
    series: series,
    graphic: graphics
});
</script>
</body>
</html>
